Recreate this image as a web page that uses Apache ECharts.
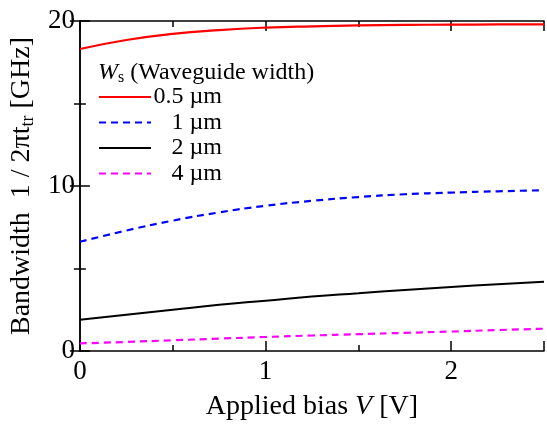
<!DOCTYPE html>
<html>
<head>
<meta charset="utf-8">
<script src="https://cdn.jsdelivr.net/npm/echarts@6/dist/echarts.min.js"></script>
<style>html,body{margin:0;padding:0;background:#fff}#c{width:547px;height:426px}</style>
</head>
<body>
<div id="c"></div>
<script>
const biasV = [0, 0.25, 0.5, 0.75, 1, 1.25, 1.5, 1.75, 2, 2.25, 2.5];
const w05 = [18.3, 18.85, 19.22, 19.45, 19.6, 19.68, 19.73, 19.76, 19.78, 19.79, 19.8];
const w1 = [6.62, 7.3, 7.9, 8.4, 8.8, 9.1, 9.33, 9.5, 9.6, 9.68, 9.74];
const w2 = [1.9, 2.2, 2.5, 2.8, 3.05, 3.3, 3.5, 3.7, 3.88, 4.05, 4.2];
const w4 = [0.46, 0.55, 0.65, 0.75, 0.85, 0.94, 1.02, 1.1, 1.18, 1.27, 1.35];
const seriesNames = ['0.5 µm', '1 µm', '2 µm', '4 µm'];
const xTicks = [0, 1, 2];
const yTicks = [0, 10, 20];

const FONT = '"Liberation Serif", "DejaVu Serif", serif';
const pair = arr => biasV.map((x, i) => [x, arr[i]]);

const chart = echarts.init(document.getElementById('c'), null, {renderer: 'canvas'});
const axisLine = {show: true, lineStyle: {color: '#000', width: 1.5}};
const majorTick = {show: true, inside: true, length: 10, lineStyle: {color: '#000', width: 1.5}};
const minorTickX = {show: true, inside: true, length: 6, lineStyle: {color: '#000', width: 1.5}};

function xAx(pos, interval, major, extra) {
  return Object.assign({
    type: 'value', min: 0, max: 2.5, interval: interval, position: pos,
    axisLine: major ? axisLine : {show: false},
    axisTick: major ? majorTick : minorTickX,
    axisLabel: {show: false},
    splitLine: {show: false}
  }, extra || {});
}

chart.setOption({
  animation: false,
  backgroundColor: '#fff',
  grid: {left: 78, right: -1, top: 21, bottom: 70, containLabel: false},
  xAxis: [
    xAx('bottom', 1, true, {
      name: 'Applied bias {i|V} [V]',
      nameLocation: 'middle', nameGap: 42,
      nameTextStyle: {fontFamily: FONT, fontSize: 28, color: '#000',
        rich: {i: {fontFamily: FONT, fontSize: 28, fontStyle: 'italic', color: '#000'}}},
      axisLabel: {show: true, fontFamily: FONT, fontSize: 27, color: '#000', margin: 7,
        formatter: v => xTicks.includes(v) ? String(v) : ''}
    }),
    xAx('bottom', 0.5, false),
    xAx('top', 1, true),
    xAx('top', 0.5, false)
  ],
  yAxis: [
    {
      type: 'value', min: 0, max: 20, interval: 10, position: 'left',
      axisLine: axisLine, axisTick: majorTick,
      minorTick: {show: true, splitNumber: 2, length: 6, lineStyle: {color: '#000', width: 1.5}},
      splitLine: {show: false}, minorSplitLine: {show: false},
      axisLabel: {fontFamily: FONT, fontSize: 27, color: '#000', margin: 5,
        formatter: v => yTicks.includes(v) ? String(v) : ''},
      name: 'Bandwidth  1 / 2π{s|t}{sub|tr} [GHz]',
      nameLocation: 'middle', nameGap: 42, nameRotate: 90,
      nameTextStyle: {fontFamily: FONT, fontSize: 28, color: '#000',
        rich: {
          s: {fontFamily: FONT, fontSize: 28, color: '#000'},
          sub: {fontFamily: FONT, fontSize: 18, color: '#000', verticalAlign: 'bottom', padding: [12, 0, 0, 0]}
        }}
    },
    {
      type: 'value', min: 0, max: 20, interval: 10, position: 'right',
      axisLine: axisLine, axisTick: majorTick,
      minorTick: {show: true, splitNumber: 2, length: 6, lineStyle: {color: '#000', width: 1.5}},
      splitLine: {show: false}, axisLabel: {show: false}
    }
  ],
  legend: {
    orient: 'vertical', left: 98, top: 85, padding: 0, itemGap: 1.5,
    itemWidth: 52, itemHeight: 14,
    data: seriesNames,
    itemStyle: {opacity: 0},
    formatter: n => '{a|' + n + '}',
    textStyle: {fontFamily: FONT, fontSize: 24, color: '#000', lineHeight: 24,
      rich: {a: {width: 66, align: 'right', fontFamily: FONT, fontSize: 24, lineHeight: 24, color: '#000'}}}
  },
  graphic: [{
    type: 'text', left: 98, top: 61,
    style: {
      text: '{w|W}{s|s} (Waveguide width)',
      font: '24px ' + FONT, fill: '#000',
      rich: {
        w: {fontFamily: FONT, fontSize: 24, fontStyle: 'italic', fill: '#000'},
        s: {fontFamily: FONT, fontSize: 16, fill: '#000', padding: [10, 0, 0, 0]}
      }
    }
  }],
  series: [
    {name: seriesNames[0], type: 'line', smooth: true, symbol: 'none', showSymbol: false, data: pair(w05),
      lineStyle: {color: '#ff0000', width: 2.2, type: 'solid'}, itemStyle: {color: '#ff0000'}},
    {name: seriesNames[1], type: 'line', smooth: true, symbol: 'none', showSymbol: false, data: pair(w1),
      lineStyle: {color: '#0000ff', width: 2.2, type: [7, 5]}, itemStyle: {color: '#0000ff'}},
    {name: seriesNames[2], type: 'line', smooth: true, symbol: 'none', showSymbol: false, data: pair(w2),
      lineStyle: {color: '#000000', width: 2, type: 'solid'}, itemStyle: {color: '#000000'}},
    {name: seriesNames[3], type: 'line', smooth: true, symbol: 'none', showSymbol: false, data: pair(w4),
      lineStyle: {color: '#ff00ff', width: 2.2, type: [7, 5]}, itemStyle: {color: '#ff00ff'}}
  ]
});
</script>
</body>
</html>
